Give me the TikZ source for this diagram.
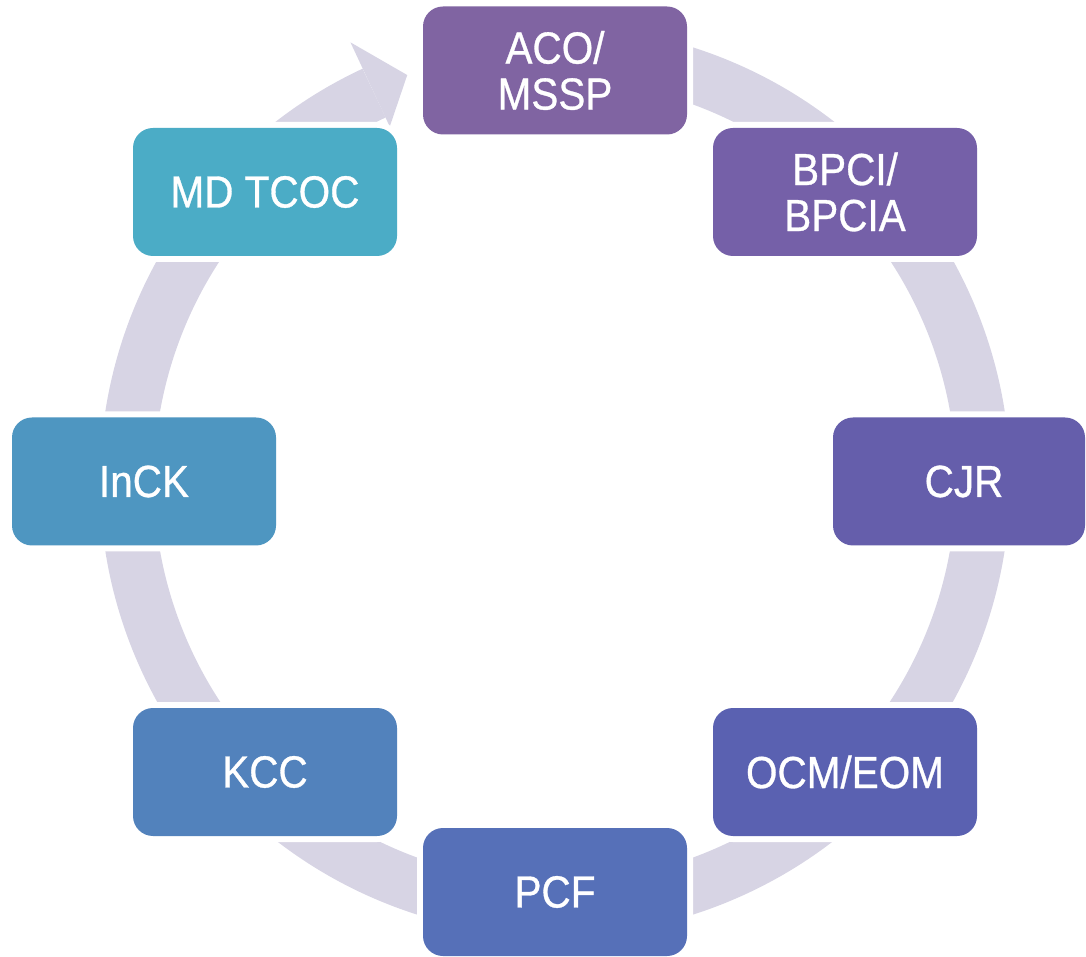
\documentclass[tikz,border=0pt]{standalone}
\usepackage{fontspec}
\setmainfont{Liberation Sans}[FakeStretch=0.9, FakeBold=0.7]
\definecolor{ringband}{HTML}{D7D4E4}
\definecolor{cA}{HTML}{8064A2}
\definecolor{cB}{HTML}{7560A8}
\definecolor{cC}{HTML}{655EAB}
\definecolor{cD}{HTML}{5A61B1}
\definecolor{cE}{HTML}{5670B8}
\definecolor{cF}{HTML}{5282BC}
\definecolor{cG}{HTML}{4E96C1}
\definecolor{cH}{HTML}{4BACC6}
\tikzset{
  stage/.style={rounded corners=20pt, minimum width=264pt, minimum height=128pt,
    inner sep=0pt, text=white, align=center,
    font=\fontsize{45pt}{46pt}\selectfont,
    preaction={draw=white, line width=12pt}},
  band/.style={draw=ringband, line width=54pt, line cap=butt},
}
\begin{document}
\begin{tikzpicture}[x=1pt, y=1pt]
  \useasboundingbox (0,0) rectangle (1086,956);
  \coordinate (hub) at (555,475);

  % circular band with its arrowhead, running clockwise
  \begin{scope}[shift={(hub)}]
    \draw[band] (115:428) arc[start angle=115, end angle=452, radius=428];
    \fill[ringband] (115:391) -- (115:484) -- (110:432) -- cycle;
  \end{scope}

  % the eight stages
  \node[stage, fill=cA] (aco)  at (555,885.5) {ACO/\\MSSP};
  \node[stage, fill=cB] (bpci) at (845,764)   {BPCI/\\BPCIA};
  \node[stage, fill=cC, minimum width=252pt] (cjr) at (959,474.5) {\hspace*{10pt}CJR};
  \node[stage, fill=cD] (ocm)  at (845,184)   {OCM/EOM};
  \node[stage, fill=cE] (pcf)  at (555,64)    {PCF};
  \node[stage, fill=cF] (kcc)  at (265,184)   {KCC};
  \node[stage, fill=cG] (inck) at (144,474.5) {InCK};
  \node[stage, fill=cH] (md)   at (265,764)   {MD TCOC};
\end{tikzpicture}
\end{document}
